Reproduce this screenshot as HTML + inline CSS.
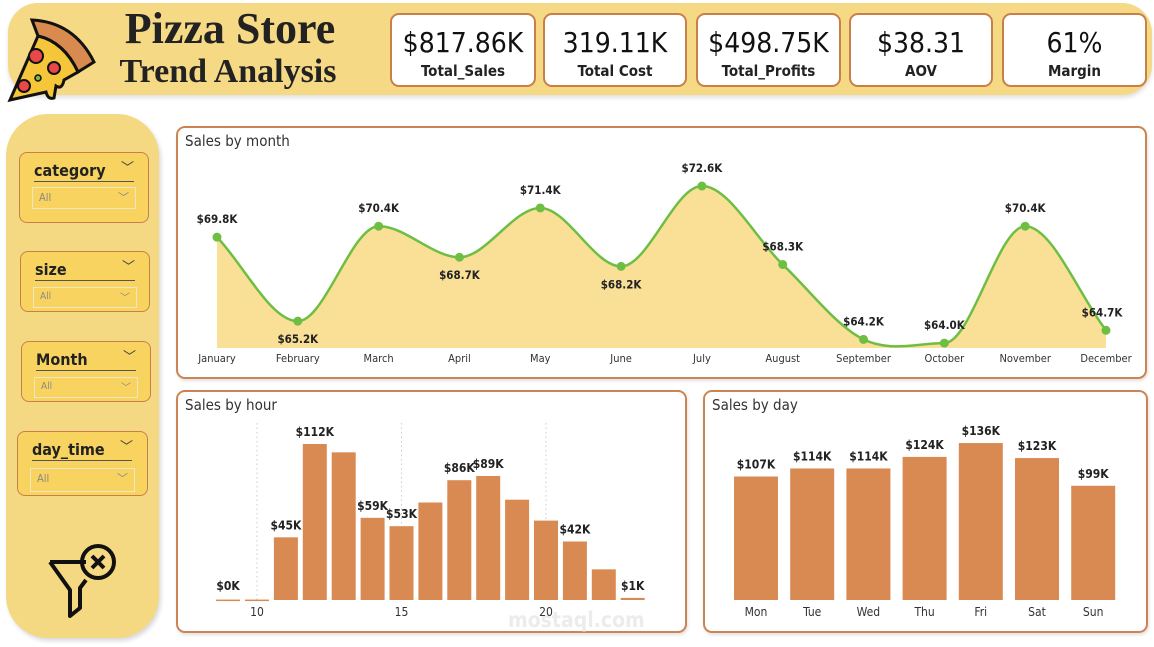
<!DOCTYPE html>
<html><head><meta charset="utf-8">
<style>
body{margin:0;width:1154px;height:647px;background:#fff;position:relative;overflow:hidden;font-family:"DejaVu Sans Condensed","DejaVu Sans","Liberation Sans",sans-serif}
.abs{position:absolute;box-sizing:border-box}
.header{left:8px;top:3px;width:1144px;height:92px;background:#f5d985;border-radius:30px;box-shadow:0 3px 4px rgba(0,0,0,.12)}
.title{font-family:"Liberation Serif",serif;font-weight:bold;color:#222;text-align:center;line-height:1}
.kpi{top:13px;height:74px;background:#fff;border:2px solid #c8804a;border-radius:9px;text-align:center}
.kpi .v{font-family:"DejaVu Sans Condensed",sans-serif;font-size:28px;color:#111;margin-top:12px;line-height:32px}
.kpi .l{font-size:15px;font-weight:bold;color:#222;margin-top:3px}
.side{left:6px;top:114px;width:153px;height:524px;background:#f4d882;border-radius:42px;box-shadow:2px 3px 4px rgba(0,0,0,.15)}
.flt{background:#f9d35f;border:1.5px solid #c8804a;border-radius:8px}
.flt .n{position:absolute;left:14px;top:8px;font-weight:bold;font-size:16px;color:#222;border-bottom:1.5px solid #555;width:100px;padding-bottom:1px}
.flt .c{position:absolute;right:14px;top:4px;font-size:13px;color:#444}
.flt .s{position:absolute;left:12px;right:12px;top:34px;height:22px;border:1px solid #f0e6c0;font-size:11px;color:#888;padding:3px 0 0 6px;box-sizing:border-box}
.flt .s span{position:absolute;right:6px;top:1px}
.panel{background:#fff;border:2px solid #cc8452;border-radius:9px;box-shadow:1px 2px 3px rgba(0,0,0,.12)}
.pt{position:absolute;left:7px;top:4px;font-size:15px;color:#333}
</style></head><body>
<div class="abs header"></div>
<svg class="abs" style="left:4px;top:12px" width="96" height="92" viewBox="0 0 96 92">
<path d="M28 8 Q70 10 90 50 L74 60 Q60 30 34 24 Z" fill="#d98a4e" stroke="#111" stroke-width="3"/>
<path d="M34 24 Q60 30 74 60 L60 68 Q58 78 52 74 L50 86 Q44 88 42 80 L6 88 Z" fill="#f6c63a" stroke="#111" stroke-width="3"/>
<circle cx="32" cy="44" r="7" fill="#e94848" stroke="#111" stroke-width="2"/><circle cx="50" cy="56" r="6" fill="#e94848" stroke="#111" stroke-width="2"/><circle cx="20" cy="74" r="6" fill="#e94848" stroke="#111" stroke-width="2"/><circle cx="34" cy="66" r="3" fill="#7ab648" stroke="#111" stroke-width="1.5"/>
</svg>
<div class="abs title" style="left:108px;top:7px;width:244px;font-size:44px">Pizza Store</div>
<div class="abs title" style="left:108px;top:55px;width:240px;font-size:34px">Trend Analysis</div>
<div class="abs kpi" style="left:390px;width:146px"><div class="v">$817.86K</div><div class="l">Total_Sales</div></div>
<div class="abs kpi" style="left:543px;width:144px"><div class="v">319.11K</div><div class="l">Total Cost</div></div>
<div class="abs kpi" style="left:696px;width:145px"><div class="v">$498.75K</div><div class="l">Total_Profits</div></div>
<div class="abs kpi" style="left:849px;width:144px"><div class="v">$38.31</div><div class="l">AOV</div></div>
<div class="abs kpi" style="left:1002px;width:145px"><div class="v">61%</div><div class="l">Margin</div></div>

<div class="abs side"></div>
<div class="abs flt" style="left:19px;top:152px;width:130px;height:71px"><div class="n">category</div><div class="c">﹀</div><div class="s">All<span>﹀</span></div></div>
<div class="abs flt" style="left:20px;top:251px;width:130px;height:61px"><div class="n">size</div><div class="c">﹀</div><div class="s" style="top:35px;height:21px;font-size:10px">All<span>﹀</span></div></div>
<div class="abs flt" style="left:21px;top:341px;width:130px;height:61px"><div class="n">Month</div><div class="c">﹀</div><div class="s" style="top:35px;height:21px;font-size:10px">All<span>﹀</span></div></div>
<div class="abs flt" style="left:17px;top:431px;width:131px;height:65px"><div class="n">day_time</div><div class="c">﹀</div><div class="s" style="top:36px;height:24px">All<span>﹀</span></div></div>
<svg class="abs" style="left:46px;top:540px" width="76" height="82">
<path d="M4 22 L40 22 M4 22 L24 50 L24 76 L34 68 L34 48 L40 40" fill="none" stroke="#111" stroke-width="4" stroke-linejoin="round"/>
<circle cx="52" cy="22" r="16" fill="none" stroke="#111" stroke-width="4"/>
<path d="M46 16 L58 28 M58 16 L46 28" stroke="#111" stroke-width="4"/>
</svg>

<div class="abs panel" style="left:176px;top:126px;width:971px;height:253px"><div class="pt">Sales by month</div></div>
<div class="abs panel" style="left:176px;top:390px;width:511px;height:243px"><div class="pt">Sales by hour</div></div>
<div class="abs panel" style="left:703px;top:390px;width:445px;height:243px"><div class="pt">Sales by day</div></div>
<div class="abs" style="left:508px;top:608px;font-size:21px;font-weight:bold;color:#ececec">mostaql.com</div>

<svg id="ch" class="abs" style="left:0;top:0" width="1154" height="647"></svg>
<script>
const months=["January","February","March","April","May","June","July","August","September","October","November","December"];
const monthSales=[69.8,65.2,70.4,68.7,71.4,68.2,72.6,68.3,64.2,64.0,70.4,64.7];
const monthLabels=["$69.8K","$65.2K","$70.4K","$68.7K","$71.4K","$68.2K","$72.6K","$68.3K","$64.2K","$64.0K","$70.4K","$64.7K"];
const hours=[9,10,11,12,13,14,15,16,17,18,19,20,21,22,23];
const hourSales=[0.3,0.3,45,112,106,59,53,70,86,89,72,57,42,22,1.5];
const hourLabels=["$0K","","$45K","$112K","","$59K","$53K","","$86K","$89K","","","$42K","","$1K"];
const hourTicks=[10,15,20];
const days=["Mon","Tue","Wed","Thu","Fri","Sat","Sun"];
const daySales=[107,114,114,124,136,123,99];
const dayLabels=["$107K","$114K","$114K","$124K","$136K","$123K","$99K"];
const labelBelow=[false,true,false,true,false,true,false,false,false,false,false,false];

const svg=document.getElementById('ch');const NS="http://www.w3.org/2000/svg";
function mk(t,a,txt){const e=document.createElementNS(NS,t);for(const k in a)e.setAttribute(k,a[k]);if(txt!==undefined)e.textContent=txt;svg.appendChild(e);return e;}
// month
const mx=i=>217+i*(1106-217)/11, my=v=>348-(v-63.73)*18.26;
const pts=monthSales.map((v,i)=>[mx(i),my(v)]);
// monotone cubic
const n=pts.length,h=pts[1][0]-pts[0][0];const del=[],m=[];
for(let i=0;i<n-1;i++)del.push((pts[i+1][1]-pts[i][1])/h);
m[0]=del[0];m[n-1]=del[n-2];
for(let i=1;i<n-1;i++){m[i]=(del[i-1]*del[i]<=0)?0:(del[i-1]+del[i])/2;}
let d="M"+pts[0][0]+","+pts[0][1];
for(let i=0;i<n-1;i++){const p1=pts[i],p2=pts[i+1];
d+=` C${p1[0]+h/3},${p1[1]+m[i]*h/3} ${p2[0]-h/3},${p2[1]-m[i+1]*h/3} ${p2[0]},${p2[1]}`;}
let a=mk('path',{d:d+` L${mx(11)},348 L${mx(0)},348 Z`,fill:"#f9e096"});

let l=mk('path',{d:d,fill:"none",stroke:"#6fbe44","stroke-width":2.5});

monthSales.forEach((v,i)=>{
 const c=mk('circle',{cx:mx(i),cy:my(v),r:4.5,fill:"#6fbe44"});
 
 const below=labelBelow[i];
 const t=mk('text',{x:i==11?mx(i)-4:mx(i),y:below?my(v)+22:my(v)-14,"text-anchor":"middle","font-size":11.5,"font-weight":"bold",fill:"#222"},monthLabels[i]);
 
 const x=mk('text',{x:mx(i),y:362,"text-anchor":"middle","font-size":11,fill:"#333"},months[i]);
 
});
// hour
const hx=h=>257+(h-10)*28.9, hy=v=>600-v*1.393;
hourTicks.forEach(h=>{const g=mk('line',{x1:hx(h),x2:hx(h),y1:423,y2:600,stroke:"#ccc","stroke-dasharray":"1.5,3"});
 
 const t=mk('text',{x:hx(h),y:616,"text-anchor":"middle","font-size":12,fill:"#333"},h);
 });
hours.forEach((h,i)=>{const v=hourSales[i];if(v<=0)return;
 const b=mk('rect',{x:hx(h)-12,y:hy(v),width:24,height:Math.max(1.5,600-hy(v)),fill:"#d98a52"});
 
 if(hourLabels[i]){const t=mk('text',{x:hx(h),y:Math.min(hy(v),598)-8,"text-anchor":"middle","font-size":12,"font-weight":"bold",fill:"#222"},hourLabels[i]);
 }});
// day
const dx=i=>756+i*56.2, dy=v=>600-v*1.154;
days.forEach((dd,i)=>{const v=daySales[i];
 const b=mk('rect',{x:dx(i)-22,y:dy(v),width:44,height:600-dy(v),fill:"#d98a52"});
 
 const t=mk('text',{x:dx(i),y:dy(v)-8,"text-anchor":"middle","font-size":12,"font-weight":"bold",fill:"#222"},dayLabels[i]);
 
 const x=mk('text',{x:dx(i),y:616,"text-anchor":"middle","font-size":12,fill:"#333"},dd);
 });
</script>
</body></html>
